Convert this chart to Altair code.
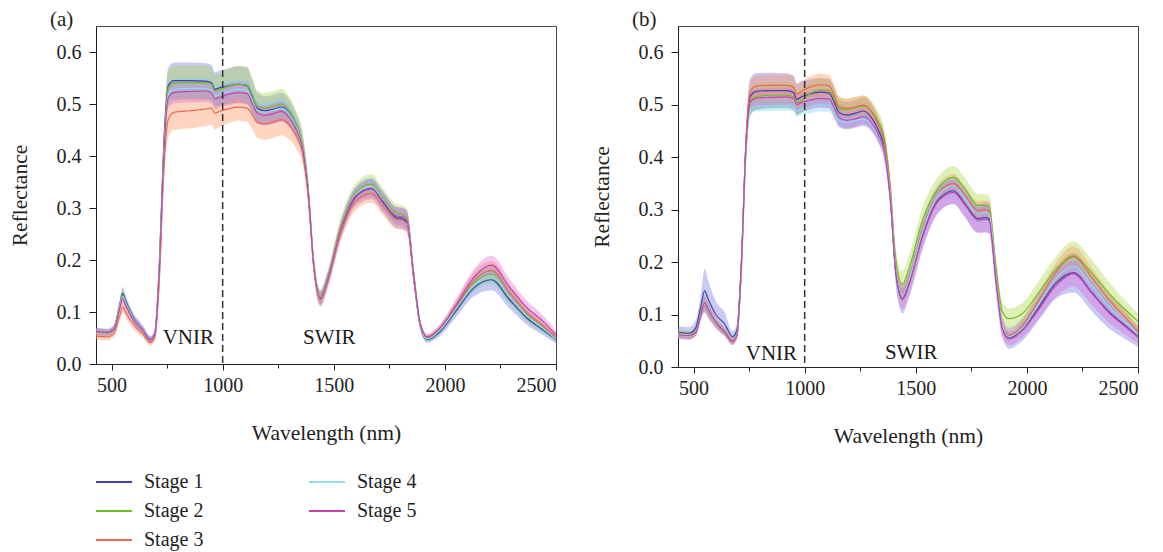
import altair as alt
import pandas as pd

FONT = "Liberation Serif"

WAVELENGTH = [
    430, 480, 510, 535, 550, 565, 600, 640, 675, 695, 715, 735, 755,
    780, 850, 920, 950, 965, 985, 1020, 1070, 1110, 1135, 1155, 1190, 1230,
    1265, 1300, 1330, 1360, 1385, 1410, 1440, 1470, 1530, 1600, 1670, 1720, 1780,
    1810, 1830, 1860, 1890, 1920, 1980, 2050, 2130, 2210, 2290, 2370, 2440, 2500,
]

STAGES = ["Stage 1", "Stage 2", "Stage 3", "Stage 4", "Stage 5"]
LINE_COLORS = ["#3a44ad", "#6cbf1f", "#e66a57", "#8fdcef", "#c444a8"]
FILL_COLORS = ["#7272e6", "#a6d844", "#ff915a", "#72d6ee", "#de6ad2"]

# ---------------- panel (a) : mean reflectance ----------------
A_S1 = [0.063, 0.061, 0.068, 0.110, 0.136, 0.120, 0.088, 0.067, 0.047, 0.060, 0.190, 0.420, 0.535,
        0.545, 0.545, 0.544, 0.541, 0.528, 0.531, 0.534, 0.538, 0.535, 0.512, 0.492, 0.487, 0.490,
        0.494, 0.482, 0.458, 0.418, 0.332, 0.190, 0.126, 0.158, 0.255, 0.322, 0.337, 0.312, 0.282,
        0.279, 0.272, 0.165, 0.072, 0.047, 0.063, 0.102, 0.146, 0.162, 0.124, 0.088, 0.066, 0.047]
A_S2 = [0.062, 0.060, 0.067, 0.108, 0.132, 0.117, 0.086, 0.066, 0.046, 0.059, 0.190, 0.410, 0.530,
        0.540, 0.541, 0.541, 0.538, 0.525, 0.528, 0.533, 0.538, 0.536, 0.515, 0.496, 0.492, 0.496,
        0.500, 0.487, 0.463, 0.423, 0.336, 0.195, 0.130, 0.163, 0.263, 0.330, 0.346, 0.320, 0.290,
        0.287, 0.280, 0.172, 0.075, 0.049, 0.067, 0.108, 0.155, 0.172, 0.131, 0.093, 0.070, 0.049]
A_S3 = [0.054, 0.052, 0.058, 0.090, 0.110, 0.098, 0.075, 0.058, 0.041, 0.052, 0.160, 0.370, 0.470,
        0.484, 0.487, 0.490, 0.492, 0.482, 0.486, 0.490, 0.494, 0.492, 0.478, 0.465, 0.462, 0.466,
        0.470, 0.460, 0.440, 0.405, 0.322, 0.185, 0.124, 0.155, 0.250, 0.314, 0.328, 0.305, 0.278,
        0.276, 0.270, 0.165, 0.075, 0.051, 0.068, 0.110, 0.160, 0.180, 0.138, 0.098, 0.074, 0.051]
A_S4 = [0.063, 0.061, 0.067, 0.107, 0.130, 0.116, 0.086, 0.066, 0.046, 0.059, 0.180, 0.400, 0.518,
        0.528, 0.530, 0.530, 0.527, 0.515, 0.518, 0.524, 0.528, 0.526, 0.506, 0.488, 0.484, 0.488,
        0.492, 0.480, 0.457, 0.418, 0.332, 0.192, 0.128, 0.160, 0.259, 0.327, 0.342, 0.317, 0.286,
        0.284, 0.277, 0.170, 0.074, 0.048, 0.066, 0.106, 0.152, 0.170, 0.130, 0.092, 0.069, 0.048]
A_S5 = [0.063, 0.061, 0.066, 0.104, 0.126, 0.112, 0.084, 0.065, 0.046, 0.058, 0.180, 0.400, 0.512,
        0.522, 0.524, 0.525, 0.522, 0.510, 0.513, 0.518, 0.522, 0.520, 0.500, 0.483, 0.478, 0.482,
        0.486, 0.474, 0.452, 0.414, 0.330, 0.190, 0.127, 0.159, 0.257, 0.324, 0.338, 0.314, 0.285,
        0.283, 0.276, 0.170, 0.076, 0.052, 0.070, 0.113, 0.166, 0.190, 0.148, 0.108, 0.083, 0.056]

# ---------------- panel (a) : standard deviation ----------------
A_D1 = [0.007, 0.007, 0.007, 0.010, 0.012, 0.011, 0.009, 0.008, 0.007, 0.008, 0.020, 0.030, 0.034,
        0.035, 0.035, 0.035, 0.034, 0.033, 0.033, 0.034, 0.035, 0.035, 0.033, 0.030, 0.028, 0.028,
        0.028, 0.026, 0.024, 0.022, 0.020, 0.016, 0.014, 0.014, 0.016, 0.018, 0.020, 0.020, 0.020,
        0.020, 0.020, 0.015, 0.008, 0.006, 0.008, 0.012, 0.016, 0.020, 0.017, 0.013, 0.010, 0.007]
A_D2 = [0.006, 0.006, 0.006, 0.009, 0.011, 0.010, 0.008, 0.007, 0.006, 0.007, 0.020, 0.030, 0.032,
        0.033, 0.033, 0.033, 0.032, 0.031, 0.031, 0.033, 0.035, 0.035, 0.033, 0.030, 0.029, 0.029,
        0.029, 0.027, 0.025, 0.022, 0.020, 0.016, 0.014, 0.014, 0.016, 0.018, 0.019, 0.019, 0.018,
        0.018, 0.018, 0.014, 0.008, 0.006, 0.008, 0.011, 0.015, 0.017, 0.015, 0.012, 0.009, 0.007]
A_D3 = [0.007, 0.007, 0.007, 0.010, 0.012, 0.011, 0.009, 0.007, 0.006, 0.008, 0.020, 0.030, 0.033,
        0.034, 0.034, 0.033, 0.032, 0.031, 0.031, 0.028, 0.026, 0.026, 0.028, 0.030, 0.031, 0.031,
        0.030, 0.028, 0.025, 0.022, 0.020, 0.016, 0.014, 0.014, 0.016, 0.018, 0.018, 0.018, 0.018,
        0.018, 0.018, 0.014, 0.008, 0.006, 0.008, 0.012, 0.016, 0.018, 0.016, 0.012, 0.009, 0.007]
A_D4 = [0.005, 0.005, 0.005, 0.008, 0.010, 0.009, 0.007, 0.006, 0.005, 0.006, 0.015, 0.020, 0.020,
        0.020, 0.020, 0.020, 0.020, 0.019, 0.019, 0.020, 0.020, 0.020, 0.019, 0.018, 0.018, 0.018,
        0.018, 0.017, 0.016, 0.015, 0.014, 0.013, 0.012, 0.012, 0.014, 0.015, 0.016, 0.016, 0.016,
        0.016, 0.016, 0.012, 0.007, 0.005, 0.007, 0.010, 0.013, 0.015, 0.013, 0.010, 0.008, 0.006]
A_D5 = [0.006, 0.006, 0.006, 0.009, 0.011, 0.010, 0.008, 0.007, 0.006, 0.007, 0.015, 0.020, 0.020,
        0.021, 0.021, 0.021, 0.021, 0.020, 0.020, 0.021, 0.021, 0.021, 0.020, 0.019, 0.019, 0.019,
        0.019, 0.018, 0.017, 0.016, 0.015, 0.014, 0.013, 0.013, 0.015, 0.016, 0.017, 0.017, 0.017,
        0.018, 0.018, 0.014, 0.008, 0.006, 0.008, 0.012, 0.016, 0.018, 0.016, 0.013, 0.011, 0.008]

# ---------------- panel (b) : mean reflectance ----------------
B_S1 = [0.066, 0.064, 0.075, 0.120, 0.145, 0.130, 0.100, 0.082, 0.058, 0.070, 0.200, 0.420, 0.515,
        0.525, 0.527, 0.527, 0.523, 0.510, 0.515, 0.520, 0.524, 0.522, 0.503, 0.485, 0.480, 0.484,
        0.488, 0.476, 0.453, 0.414, 0.325, 0.180, 0.130, 0.160, 0.250, 0.318, 0.336, 0.312, 0.283,
        0.285, 0.283, 0.170, 0.075, 0.055, 0.072, 0.112, 0.160, 0.180, 0.143, 0.105, 0.080, 0.058]
B_S2 = [0.064, 0.062, 0.068, 0.105, 0.122, 0.110, 0.085, 0.068, 0.050, 0.062, 0.190, 0.410, 0.505,
        0.515, 0.518, 0.518, 0.515, 0.504, 0.508, 0.520, 0.528, 0.527, 0.510, 0.493, 0.490, 0.494,
        0.497, 0.488, 0.468, 0.432, 0.345, 0.205, 0.158, 0.188, 0.280, 0.340, 0.362, 0.340, 0.308,
        0.308, 0.305, 0.195, 0.105, 0.092, 0.102, 0.140, 0.185, 0.212, 0.180, 0.140, 0.110, 0.087]
B_S3 = [0.062, 0.060, 0.066, 0.102, 0.118, 0.106, 0.083, 0.066, 0.048, 0.060, 0.190, 0.420, 0.525,
        0.535, 0.537, 0.537, 0.533, 0.520, 0.525, 0.533, 0.538, 0.536, 0.515, 0.497, 0.493, 0.496,
        0.499, 0.487, 0.463, 0.425, 0.338, 0.193, 0.140, 0.168, 0.262, 0.330, 0.350, 0.328, 0.298,
        0.300, 0.297, 0.185, 0.080, 0.060, 0.078, 0.125, 0.180, 0.210, 0.172, 0.128, 0.096, 0.068]
B_S4 = [0.063, 0.061, 0.067, 0.104, 0.120, 0.108, 0.084, 0.067, 0.049, 0.061, 0.180, 0.400, 0.490,
        0.497, 0.498, 0.499, 0.497, 0.487, 0.491, 0.495, 0.500, 0.499, 0.485, 0.470, 0.467, 0.470,
        0.473, 0.463, 0.443, 0.410, 0.330, 0.190, 0.138, 0.166, 0.258, 0.328, 0.345, 0.322, 0.292,
        0.294, 0.292, 0.180, 0.078, 0.058, 0.074, 0.118, 0.168, 0.192, 0.156, 0.115, 0.087, 0.062]
B_S5 = [0.062, 0.060, 0.066, 0.104, 0.122, 0.110, 0.085, 0.067, 0.049, 0.060, 0.190, 0.410, 0.505,
        0.512, 0.514, 0.515, 0.512, 0.500, 0.504, 0.508, 0.512, 0.511, 0.492, 0.475, 0.470, 0.473,
        0.477, 0.466, 0.445, 0.408, 0.324, 0.182, 0.130, 0.158, 0.248, 0.316, 0.333, 0.310, 0.280,
        0.282, 0.280, 0.170, 0.072, 0.054, 0.070, 0.108, 0.155, 0.178, 0.142, 0.103, 0.078, 0.057]

# ---------------- panel (b) : standard deviation ----------------
B_D1 = [0.012, 0.012, 0.014, 0.025, 0.042, 0.036, 0.025, 0.022, 0.010, 0.012, 0.020, 0.030, 0.035,
        0.035, 0.034, 0.033, 0.032, 0.030, 0.030, 0.028, 0.027, 0.027, 0.026, 0.025, 0.025, 0.025,
        0.025, 0.024, 0.023, 0.022, 0.022, 0.024, 0.028, 0.028, 0.027, 0.025, 0.025, 0.026, 0.027,
        0.028, 0.028, 0.025, 0.020, 0.020, 0.022, 0.025, 0.030, 0.038, 0.036, 0.032, 0.026, 0.020]
B_D2 = [0.008, 0.008, 0.008, 0.012, 0.015, 0.013, 0.010, 0.008, 0.007, 0.008, 0.020, 0.025, 0.025,
        0.025, 0.025, 0.025, 0.025, 0.024, 0.024, 0.022, 0.022, 0.022, 0.021, 0.020, 0.020, 0.020,
        0.020, 0.019, 0.019, 0.019, 0.020, 0.022, 0.025, 0.025, 0.024, 0.022, 0.021, 0.021, 0.022,
        0.022, 0.022, 0.020, 0.020, 0.020, 0.020, 0.022, 0.025, 0.027, 0.025, 0.022, 0.018, 0.015]
B_D3 = [0.007, 0.007, 0.007, 0.010, 0.012, 0.011, 0.009, 0.007, 0.006, 0.007, 0.020, 0.020, 0.020,
        0.020, 0.020, 0.020, 0.020, 0.019, 0.019, 0.020, 0.021, 0.021, 0.020, 0.019, 0.019, 0.019,
        0.019, 0.018, 0.017, 0.016, 0.016, 0.016, 0.016, 0.016, 0.017, 0.018, 0.018, 0.018, 0.018,
        0.018, 0.018, 0.016, 0.012, 0.010, 0.012, 0.015, 0.018, 0.020, 0.018, 0.015, 0.012, 0.010]
B_D4 = [0.006, 0.006, 0.006, 0.009, 0.011, 0.010, 0.008, 0.007, 0.006, 0.007, 0.015, 0.015, 0.010,
        0.010, 0.010, 0.010, 0.010, 0.010, 0.010, 0.012, 0.013, 0.013, 0.013, 0.013, 0.013, 0.013,
        0.013, 0.013, 0.013, 0.013, 0.013, 0.013, 0.014, 0.014, 0.015, 0.016, 0.016, 0.016, 0.016,
        0.016, 0.016, 0.014, 0.010, 0.008, 0.010, 0.012, 0.015, 0.017, 0.015, 0.012, 0.010, 0.008]
B_D5 = [0.007, 0.007, 0.007, 0.010, 0.013, 0.012, 0.009, 0.008, 0.007, 0.007, 0.015, 0.020, 0.018,
        0.018, 0.018, 0.018, 0.018, 0.017, 0.017, 0.018, 0.018, 0.018, 0.017, 0.017, 0.017, 0.017,
        0.017, 0.016, 0.016, 0.016, 0.016, 0.018, 0.020, 0.020, 0.021, 0.022, 0.023, 0.023, 0.024,
        0.025, 0.025, 0.020, 0.014, 0.012, 0.014, 0.018, 0.022, 0.025, 0.023, 0.019, 0.015, 0.012]

X_TICKS = [500, 750, 1000, 1250, 1500, 1750, 2000, 2250, 2500]
Y_TICKS = [0.0, 0.05, 0.1, 0.15, 0.2, 0.25, 0.3, 0.35, 0.4, 0.45, 0.5, 0.55, 0.6]

# region labels (x, y) per panel
LABELS_A = {"text": ["VNIR", "SWIR"], "x": [730, 1362], "y": [0.039, 0.039]}
LABELS_B = {"text": ["VNIR", "SWIR"], "x": [735, 1361], "y": [0.013, 0.016]}


def build_frame(means, sds):
    rows = []
    for stage, m, s in zip(STAGES, means, sds):
        for w, mv, sv in zip(WAVELENGTH, m, s):
            rows.append({"stage": stage, "band": stage, "wl": w, "mean": mv,
                         "lo": mv - sv, "hi": mv + sv})
    return pd.DataFrame(rows)


df_a = build_frame([A_S1, A_S2, A_S3, A_S4, A_S5], [A_D1, A_D2, A_D3, A_D4, A_D5])
df_b = build_frame([B_S1, B_S2, B_S3, B_S4, B_S5], [B_D1, B_D2, B_D3, B_D4, B_D5])

line_scale = alt.Scale(domain=STAGES, range=LINE_COLORS)
# same mapping, listed in reverse so the (hidden) fill legend is not merged with the line legend
fill_scale = alt.Scale(domain=STAGES[::-1], range=FILL_COLORS[::-1])

x_scale = alt.Scale(domain=[430, 2500], nice=False, zero=False)
y_scale = alt.Scale(domain=[0, 0.65], nice=False)

x_axis = alt.Axis(
    values=X_TICKS, title="Wavelength (nm)", grid=False, format="d",
    labelExpr="datum.value % 500 === 0 ? datum.label : ''",
    tickSize={"condition": {"test": "datum.value % 500 === 0", "value": 6}, "value": 4},
    labelPadding=5, titlePadding=27,
)
y_axis = alt.Axis(
    values=Y_TICKS, title="Reflectance", grid=False,
    labelExpr="abs(datum.value * 10 - round(datum.value * 10)) < 0.01 ? format(datum.value, '.1f') : ''",
    tickSize={"condition": {"test": "abs(datum.value * 10 - round(datum.value * 10)) < 0.01", "value": 7}, "value": 4},
    labelPadding=8, titlePadding=25,
)

legend = alt.Legend(
    title=None, orient="none", legendX=-1, legendY=437, columns=2,
    symbolType="stroke", symbolSize=1296, symbolStrokeWidth=2,
    labelFontSize=20, labelFont=FONT, labelColor="#222", labelOffset=11,
    columnPadding=101, rowPadding=-2,
)


def panel(df, labels, tag, height):
    base = alt.Chart(df)
    band = base.mark_area(interpolate="monotone", opacity=0.38, strokeWidth=0).encode(
        x=alt.X("wl:Q", scale=x_scale, axis=x_axis),
        y=alt.Y("lo:Q", scale=y_scale, axis=y_axis),
        y2="hi:Q",
        fill=alt.Fill("band:N", scale=fill_scale, legend=None),
    )
    lines = base.mark_line(interpolate="monotone", strokeWidth=1.2).encode(
        x=alt.X("wl:Q", scale=x_scale),
        y=alt.Y("mean:Q", scale=y_scale),
        color=alt.Color("stage:N", scale=line_scale, legend=legend),
    )
    divider = alt.Chart(pd.DataFrame({"x": [1000]})).mark_rule(
        strokeDash=[7, 4], color="#333", strokeWidth=1.5
    ).encode(x=alt.X("x:Q", scale=x_scale))
    text = alt.Chart(pd.DataFrame(labels)).mark_text(
        align="left", baseline="alphabetic", fontSize=21, font=FONT, color="#1a1a1a"
    ).encode(
        x=alt.X("x:Q", scale=x_scale),
        y=alt.Y("y:Q", scale=y_scale),
        text="text:N",
    )
    return alt.layer(band, lines, divider, text).properties(
        width=460, height=height,
        title=alt.TitleParams(tag, anchor="start", frame="group", dx=-46, fontSize=21,
                              fontWeight="normal", font=FONT, color="#222", offset=-5),
    )


chart = alt.hconcat(
    panel(df_a, LABELS_A, "(a)", 338),
    panel(df_b, LABELS_B, "(b)", 341),
    spacing=122, bounds="flush",
).resolve_scale(color="shared", fill="shared").properties(
    padding={"left": 0, "top": 0, "right": 5, "bottom": 5}, background="white"
).configure_axis(
    labelFont=FONT, titleFont=FONT, labelFontSize=20, titleFontSize=21.5,
    titleFontWeight="normal", labelColor="#222", titleColor="#222",
    domainColor="#222", tickColor="#222", domainWidth=1, tickWidth=1,
).configure_view(stroke="#444", strokeWidth=1)

chart.save("out.html", embed_options={"renderer": "svg", "actions": False})
